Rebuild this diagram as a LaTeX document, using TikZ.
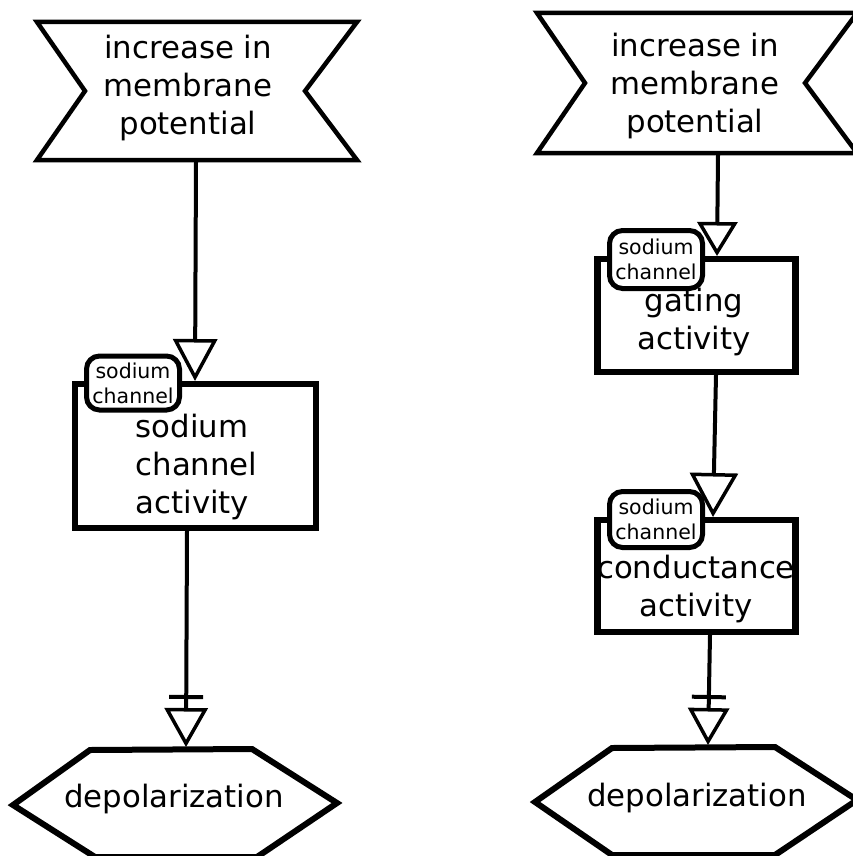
\documentclass[tikz,border=0pt]{standalone}
\usepackage{fontspec}
\setmainfont{DejaVu Sans}
\usetikzlibrary{arrows.meta}
\tikzset{
  bigtext/.style={font=\fontsize{30.8}{38}\selectfont, align=center, inner sep=0pt},
  bigleft/.style={bigtext, align=left},
  smalltext/.style={font=\fontsize{20.5}{25}\selectfont, align=center, inner sep=0pt},
  outline/.style={line width=4.5pt, line join=miter},
  hexline/.style={line width=6pt, line join=miter},
  procbox/.style={draw, rectangle, line width=6.5pt, inner sep=0pt},
  unitbox/.style={draw, rectangle, line width=5pt, rounded corners=13pt, fill=white,
                  minimum width=93pt, inner sep=0pt, smalltext},
  stimto/.style 2 args={line width=4pt,
      -{Triangle[open, width=#1, length=#2, line width=3.5pt]}},
  necto/.style 2 args={line width=4pt,
      -{Bar[width=34pt, line width=4pt, sep=9pt] Triangle[open, width=#1, length=#2, line width=3.5pt]}},
}
\begin{document}
\begin{tikzpicture}[x=1pt, y=-1pt]
\useasboundingbox (0,0) rectangle (853,856);

% --- left column ---
\draw[outline] (37,22) -- (357,22) -- (305,91) -- (357,160) -- (37,160) -- (85,91) -- cycle;
\node[bigtext] (inc1) at (188,88) {increase in\\membrane\\potential};

\node[procbox, minimum width=241pt, minimum height=144pt] (pc1) at (195.5,456) {};
\node[bigleft] (pc1t) at (196.5,467) {sodium\\channel\\activity};
\node[unitbox, minimum height=54pt] (u1) at (133,383) {sodium\\channel};

\draw[hexline] (90,750) -- (252,749) -- (337,803) -- (257,857) -- (95,857) -- (13,805) -- cycle;
\node[bigtext] (dep1) at (174,799) {depolarization};

% --- right column ---
\draw[outline] (537,13) -- (857,13) -- (805,83) -- (857,153) -- (537,153) -- (585,83) -- cycle;
\node[bigtext] (inc2) at (695,86) {increase in\\membrane\\potential};

\node[procbox, minimum width=198pt, minimum height=113pt] (pc2) at (696.5,315.5) {};
\node[bigtext] (pc2t) at (694,322) {gating\\activity};
\node[unitbox, minimum height=58pt] (u2) at (656,259.5) {sodium\\channel};

\node[procbox, minimum width=198pt, minimum height=112pt] (pc3) at (696.5,576) {};
\node[bigtext] (pc3t) at (696,589) {conductance\\activity};
\node[unitbox, minimum height=56pt] (u3) at (656,519.5) {sodium\\channel};

\draw[hexline] (612,748) -- (775,747) -- (857,800) -- (775,855) -- (612,855) -- (535,802) -- cycle;
\node[bigtext] (dep2) at (697,798) {depolarization};

% --- connector end points ---
\coordinate (l1s) at (196,162);
\coordinate (l1e) at (195,381);
\coordinate (l2s) at (187,531);
\coordinate (l2e) at (186,747);
\coordinate (r1s) at (718,155);
\coordinate (r1e) at (717,256);
\coordinate (r2s) at (716,375);
\coordinate (r2e) at (713,517);
\coordinate (r3s) at (710,635);
\coordinate (r3e) at (708,745);

% --- connectors ---
\draw[stimto={44pt}{42pt}] (l1s) -- (l1e);
\draw[necto={43pt}{39pt}] (l2s) -- (l2e);
\draw[stimto={40pt}{34pt}] (r1s) -- (r1e);
\draw[stimto={48pt}{44pt}] (r2s) -- (r2e);
\draw[necto={41pt}{37pt}] (r3s) -- (r3e);
\end{tikzpicture}
\end{document}
